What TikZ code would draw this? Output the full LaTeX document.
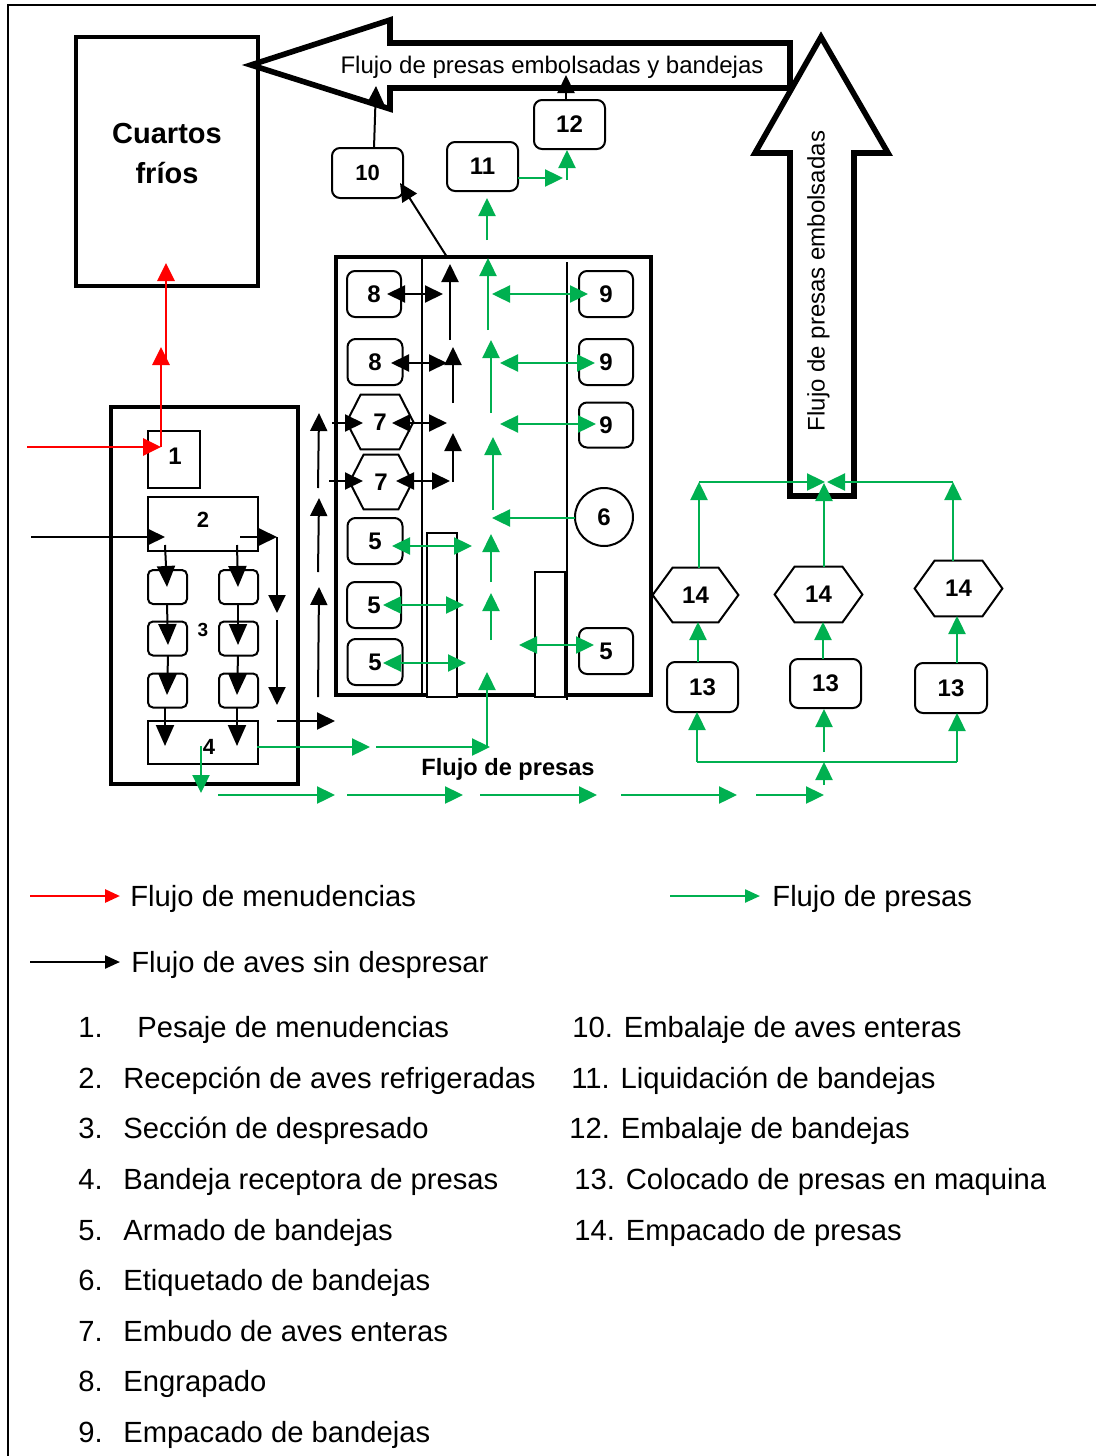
\documentclass[tikz,border=0pt]{standalone}
\usepackage{fontspec}
\setmainfont{Liberation Sans}
\usetikzlibrary{arrows.meta,calc}
\definecolor{gr}{RGB}{0,176,80}
\definecolor{rd}{RGB}{255,0,0}
\newcommand\hexdraw[2]{\draw[line width=1pt] (#1.west) -- ($(#1.north west)+(#2,0)$) -- ($(#1.north east)+(-#2,0)$) -- (#1.east) -- ($(#1.south east)+(-#2,0)$) -- ($(#1.south west)+(#2,0)$) -- cycle;}
\begin{document}
\begin{tikzpicture}[x=0.5pt,y=-0.5pt,
  tip/.style={-{Triangle[length=9pt,width=8.5pt]}},
  dtip/.style={{Triangle[length=9pt,width=8.5pt]}-{Triangle[length=9pt,width=8.5pt]}},
  btip/.style={-{Triangle[length=10.5pt,width=9pt]}},
  ltip/.style={-{Triangle[length=7.5pt,width=6.5pt]}},
  blk/.style={draw=black,line width=1pt},
  grn/.style={draw=gr,line width=1.2pt},
  rdl/.style={draw=rd,line width=1.4pt},
  sz/.style 2 args={minimum width=#1*0.5pt,minimum height=#2*0.5pt},
  rbox/.style={draw,line width=1pt,rounded corners=4pt,inner sep=0pt,font=\bfseries\fontsize{12}{14}\selectfont},
  sbox/.style={draw,line width=1pt,inner sep=0pt},
  tbox/.style={draw,line width=2pt,inner sep=0pt},
  hexn/.style={inner sep=0pt,font=\bfseries\fontsize{12}{14}\selectfont},
  num/.style={inner sep=0pt,font=\bfseries\fontsize{#1}{14}\selectfont},
  leg/.style={inner sep=0pt,anchor=base west,font=\fontsize{14.6}{17}\selectfont},
  bigar/.style={draw,line width=2.8pt,fill=white,line join=miter}
]
\useasboundingbox (0,0) rectangle (1096,1456);
% outer frame
\draw[line width=1pt] (8,1480) -- (8,5) -- (1120,5);

% Cuartos frios
\node[tbox,sz={182}{249}] (cf) at (167,161.5) {};
\node[num=14.5,anchor=base] (cft1) at (167,143) {Cuartos};
\node[num=14.5,anchor=base] (cft2) at (167,183) {fríos};

% big arrows
\draw[bigar] (251,65) -- (390,20) -- (390,43) -- (790,43) -- (790,88) -- (390,88) -- (390,109) -- cycle;
\node[inner sep=0pt,anchor=base,font=\fontsize{12}{14}\selectfont] (fl1) at (552,73.5) {Flujo de presas embolsadas y bandejas};
\draw[bigar] (821,37) -- (888,153) -- (854,153) -- (854,496) -- (790,496) -- (790,153) -- (755,153) -- cycle;
\node[inner sep=0pt,anchor=base,rotate=90,font=\fontsize{12}{14}\selectfont] (fl2) at (824.5,281) {Flujo de presas embolsadas};

% top boxes
\node[rbox,sz={71}{50},font=\bfseries\fontsize{11}{13}\selectfont] (b10) at (367.5,173) {10};
\node[rbox,sz={71}{49}] (b11) at (482.5,166.5) {11};
\node[rbox,sz={71}{49}] (b12) at (569.5,124.5) {12};

% left container
\node[tbox,sz={187}{377}] (lc) at (204.5,595.5) {};
\node[sbox,sz={52}{57}] (b1) at (174,459.5) {};
\node[num=12] (t1) at (175,456) {1};
\node[sbox,sz={110}{54}] (b2) at (203,524) {};
\node[num=11] (t2) at (203,520) {2};
\foreach \cx/\cy/\nm in {167.5/587/a1,167.5/638.5/a2,167.5/690.5/a3,238.5/587/b1,238.5/638.5/b2,238.5/690.5/b3}
  \node[draw,line width=1pt,rounded corners=2.5pt,minimum width=19.5pt,minimum height=17pt,inner sep=0pt] (s\nm) at (\cx,\cy) {};
\node[num=9.5] (t3) at (203,630) {3};
\node[sbox,sz={110}{43}] (b4) at (203,742.5) {};
\node[num=11] (t4) at (209,747) {4};

% tower
\node[tbox,sz={315}{438}] (tw) at (493.5,476) {};
\draw[line width=1pt] (422,257) -- (422,695);
\draw[line width=1pt] (567,262) -- (567,700);
\draw[line width=1pt,fill=white] (427,533) rectangle (457,697);
\draw[line width=1pt,fill=white] (535,572) rectangle (565,697);

\node[rbox,sz={54}{46}] (b8a) at (374,294) {8};
\node[rbox,sz={55}{46}] (b8b) at (375,362) {8};
\node[hexn,sz={66}{54}] (h7a) at (380,422) {7};
\hexdraw{h7a}{14}
\node[hexn,sz={62}{54}] (h7b) at (381,482) {7};
\hexdraw{h7b}{14}
\node[rbox,sz={55}{46}] (b5a) at (375,541) {5};
\node[rbox,sz={54}{46}] (b5b) at (374,605) {5};
\node[rbox,sz={55}{46}] (b5c) at (375,662) {5};
\node[rbox,sz={54}{46}] (b9a) at (606,294) {9};
\node[rbox,sz={54}{46}] (b9b) at (606,362) {9};
\node[rbox,sz={54}{45}] (b9c) at (606,425) {9};
\node[draw,circle,line width=1pt,minimum size=29pt,inner sep=0pt,font=\bfseries\fontsize{12}{14}\selectfont] (c6) at (604,517) {6};
\node[rbox,sz={54}{46}] (b5d) at (606,651) {5};

% right group
\node[rbox,sz={71}{50}] (b13a) at (702.5,687) {13};
\node[rbox,sz={71}{49}] (b13b) at (825.5,683.5) {13};
\node[rbox,sz={72}{50}] (b13c) at (951,688) {13};
\node[hexn,sz={85}{54}] (h14a) at (695.5,595) {14};
\hexdraw{h14a}{20}
\node[hexn,sz={87}{55}] (h14b) at (818.5,594.5) {14};
\hexdraw{h14b}{20}
\node[hexn,sz={87}{55}] (h14c) at (958.5,588.5) {14};
\hexdraw{h14c}{20}

\node[inner sep=0pt,anchor=base,font=\bfseries\fontsize{11.8}{14}\selectfont] (fp) at (508,775.5) {Flujo de presas};

% ---------- red arrows
\draw[rdl,tip] (27,447) -- (161,447);
\draw[rdl,tip] (161,447) -- (161,347);
\draw[rdl,tip] (166,363) -- (166,263);

% ---------- black arrows
\draw[blk,tip] (31,537) -- (165,537);
\draw[blk,tip] (240,537) -- (277,537);
\draw[blk,tip] (277,537) -- (277,613);
\draw[blk,tip] (277,620) -- (277,705);
\draw[blk,tip] (277,721) -- (335,721);
\draw[blk,btip] (165,545) -- (167,587);
\draw[blk,btip] (167,604) -- (168,645);
\draw[blk,btip] (168,656) -- (167,695);
\draw[blk,btip] (165,708) -- (165,746);
\draw[blk,btip] (237,545) -- (238,587);
\draw[blk,btip] (238,604) -- (238,645);
\draw[blk,btip] (238,656) -- (237,695);
\draw[blk,btip] (237,708) -- (237,746);
\draw[blk,tip] (318,697) -- (319,587);
\draw[blk,tip] (318,572) -- (319,498);
\draw[blk,tip] (318,488) -- (319,413);
\draw[blk,dtip] (387,294) -- (443,294);
\draw[blk,tip] (450,340) -- (450,264);
\draw[blk,dtip] (391,363) -- (447,363);
\draw[blk,tip] (453,403) -- (453,347);
\draw[blk,tip] (332,423) -- (363,423);
\draw[blk,dtip] (392,423) -- (447,423);
\draw[blk,tip] (329,481) -- (363,481);
\draw[blk,dtip] (396,481) -- (450,481);
\draw[blk,tip] (453,482) -- (453,433);
\draw[blk,tip] (447,257) -- (400,183);
\draw[blk,tip] (374,148) -- (376,86);
\draw[blk,tip] (566,100) -- (566,75);

% ---------- green arrows
\draw[grn,tip] (487,240) -- (487,198);
\draw[grn,tip] (518,178) -- (563,178);
\draw[grn,tip] (567,180) -- (567,150);
\draw[grn,tip] (488,330) -- (488,258);
\draw[grn,dtip] (492,294) -- (588,294);
\draw[grn,tip] (491,413) -- (491,340);
\draw[grn,dtip] (500,363) -- (595,363);
\draw[grn,dtip] (500,424) -- (596,424);
\draw[grn,tip] (493,510) -- (493,437);
\draw[grn,tip] (575,518) -- (492,518);
\draw[grn,tip] (491,582) -- (491,534);
\draw[grn,tip] (491,640) -- (491,593);
\draw[grn,dtip] (392,546) -- (472,546);
\draw[grn,dtip] (383,605) -- (464,605);
\draw[grn,dtip] (383,663) -- (466,663);
\draw[grn,dtip] (519,645) -- (594,645);
\draw[grn,tip] (257,747) -- (370,747);
\draw[grn,tip] (376,747) -- (490,747);
\draw[grn,tip] (487,747) -- (487,672);
\draw[grn,tip] (201,746) -- (201,793);
\draw[grn,tip] (218,795) -- (335,795);
\draw[grn,tip] (347,795) -- (463,795);
\draw[grn,tip] (480,795) -- (597,795);
\draw[grn,tip] (621,795) -- (737,795);
\draw[grn,tip] (756,795) -- (824,795);
\draw[grn,tip] (824,785) -- (824,762);
\draw[grn] (697,762) -- (957,762);
\draw[grn,tip] (697,762) -- (697,712);
\draw[grn,tip] (824,752) -- (824,709);
\draw[grn,tip] (957,762) -- (957,713);
\draw[grn,tip] (698,662) -- (698,622);
\draw[grn,tip] (823,659) -- (823,622);
\draw[grn,tip] (957,663) -- (957,616);
\draw[grn,tip] (699,568) -- (699,482);
\draw[grn,tip] (699,482) -- (825,482);
\draw[grn,tip] (824,567) -- (824,483);
\draw[grn,tip] (953,561) -- (953,482);
\draw[grn,tip] (953,482) -- (827,482);

% ---------- legend
\coordinate (lr1) at (30,896); \coordinate (lr2) at (120,896);
\draw[rdl,ltip] (lr1) -- (lr2);
\node[leg] (lrt) at (130,906.5) {Flujo de menudencias};
\coordinate (lk1) at (30,962); \coordinate (lk2) at (120,962);
\draw[blk,line width=1.2pt,ltip] (lk1) -- (lk2);
\node[leg] (lkt) at (131,972.5) {Flujo de aves sin despresar};
\coordinate (lg1) at (670,896); \coordinate (lg2) at (760,896);
\draw[grn,line width=1.2pt,ltip] (lg1) -- (lg2);
\node[leg] (lgt) at (772,906.5) {Flujo de presas};

\foreach \i/\yy/\tx/\txt in {1/1037.5/137/Pesaje de menudencias,2/1088.5/123/Recepción de aves refrigeradas,3/1138.5/123/Sección de despresado,4/1189.5/123/Bandeja receptora de presas,5/1240.5/123/Armado de bandejas,6/1290.5/123/Etiquetado de bandejas,7/1341.5/123/Embudo de aves enteras,8/1391.5/123/Engrapado,9/1442.5/123/Empacado de bandejas}{
  \node[leg] (ln\i) at (78,\yy) {\i.};
  \node[leg] (lt\i) at (\tx,\yy) {\txt};
}
\node[leg] (r10) at (572,1037.5) {10. Embalaje de aves enteras};
\node[leg] (r11) at (571,1088.5) {11. Liquidación de bandejas};
\node[leg] (r12) at (569,1138.5) {12. Embalaje de bandejas};
\node[leg] (r13) at (574,1189.5) {13. Colocado de presas en maquina};
\node[leg] (r14) at (574,1240.5) {14. Empacado de presas};
\end{tikzpicture}
\end{document}
